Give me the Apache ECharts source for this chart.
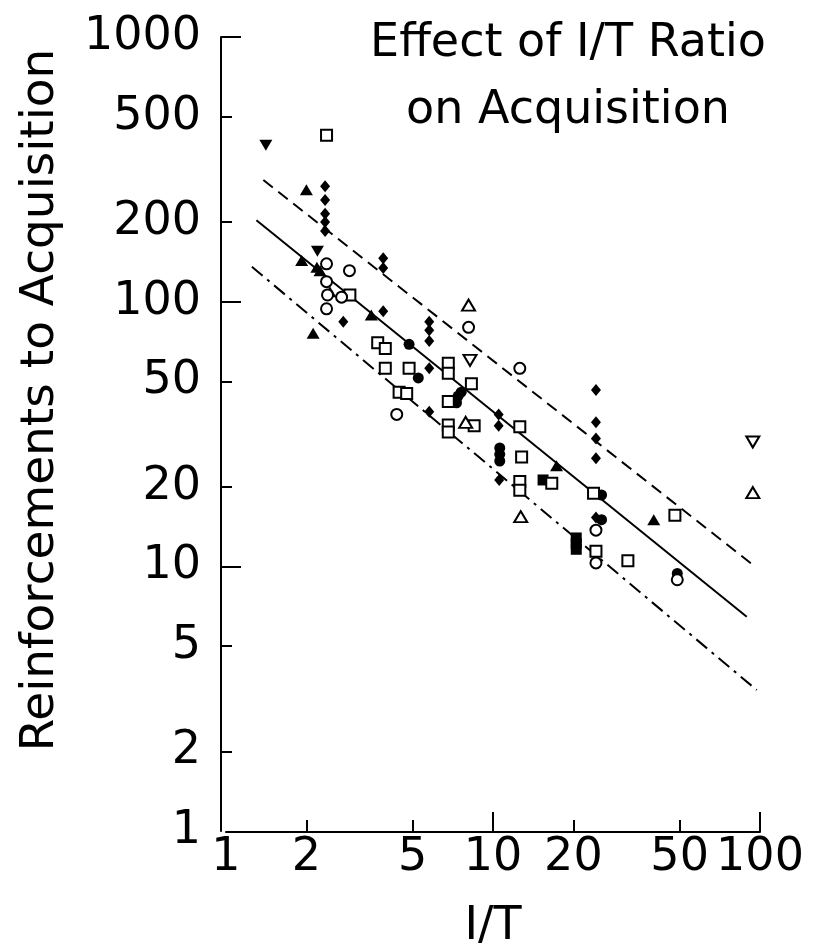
<!DOCTYPE html>
<html><head><meta charset="utf-8">
<script src="https://cdn.jsdelivr.net/npm/echarts@6/dist/echarts.min.js"></script>
<style>html,body{margin:0;padding:0;background:#fff}#c{width:821px;height:950px}</style>
</head><body><div id="c"></div>
<script>
// ---- tick values / labels ----
const xTickLabels = [1, 2, 5, 10, 20, 50, 100];
const yTickLabels = [1, 2, 5, 10, 20, 50, 100, 200, 500, 1000];
const xMajorTicks = [10, 100];
const xMinorTicks = [2, 5, 20, 50];
const yMajorTicks = [10, 100, 1000];
const yMinorTicks = [2, 5, 20, 50, 200, 500];

// ---- scatter groups (I/T, reinforcements) ----
const fDiamondX = [2.35, 2.35, 2.35, 2.35, 2.35, 3.88, 3.88, 3.88, 2.75, 5.77, 5.77, 5.77, 5.77, 5.77, 10.5, 10.5, 10.55, 24.3, 24.3, 24.3, 24.3, 24.3];
const fDiamondY = [273, 242, 215, 200, 185, 146, 134, 92, 84, 84, 78, 71, 56, 38.4, 37.5, 34, 21.2, 46.4, 35, 30.4, 25.6, 15.3];
const fTriX = [2.0, 1.92, 2.19, 2.25, 2.45, 3.5, 2.12, 17.3, 40];
const fTriY = [265, 143, 135, 131, 109, 89, 76, 24, 15];
const fInvTriX = [1.41, 2.2];
const fInvTriY = [390, 155];
const fCircleX = [4.85, 5.25, 7.4, 7.6, 7.3, 10.6, 10.6, 10.6, 25.5, 25.5, 49];
const fCircleY = [69, 51.5, 44, 45.5, 41.5, 28, 26.5, 25, 18.6, 15, 9.4];
const fSquareX = [20.5, 20.5, 20.5, 15.4];
const fSquareY = [12.8, 12.2, 11.6, 21.2];
const oSquareX = [2.38, 2.91, 3.7, 3.95, 3.95, 4.85, 4.45, 4.75, 6.8, 6.8, 6.8, 6.8, 6.8, 8.5, 8.3, 12.6, 12.8, 12.6, 12.6, 16.6, 23.8, 24.3, 32, 48];
const oSquareY = [425, 106, 70, 66.5, 56, 56, 45.5, 45, 58.5, 53.6, 42, 34.2, 32.2, 34, 49, 33.7, 25.9, 20.9, 19.4, 20.6, 18.9, 11.4, 10.5, 15.6];
const oCircleX = [2.38, 2.38, 2.4, 2.71, 2.9, 2.38, 4.36, 8.1, 12.6, 24.3, 24.3, 49];
const oCircleY = [139, 119, 106, 104, 131, 94, 37.5, 80, 56, 13.7, 10.3, 8.9];
const oTriX = [8.1, 7.9, 12.7, 94];
const oTriY = [97, 35, 15.4, 19];
const oInvTriX = [8.2, 94];
const oInvTriY = [60, 29.5];

// ---- fitted lines ----
const fitX = [1.30, 89.2];
const fitY = [203, 6.45];
const upperX = [1.38, 94.4];
const upperY = [288, 10.1];
const lowerX = [1.25, 97.2];
const lowerY = [135.5, 3.41];

const zip = (xs, ys) => xs.map((x, i) => [x, ys[i]]);
const FONT = 'DejaVu Sans';
const BLACK = '#000';

function scatter(name, xs, ys, symbol, size, filled, rotate) {
  return {
    name, type: 'scatter', data: zip(xs, ys), symbol, symbolSize: size,
    symbolRotate: rotate || 0, z: 5,
    itemStyle: filled ? { color: BLACK, opacity: 1 } : { color: '#fff', borderColor: BLACK, borderWidth: 2, opacity: 1 }
  };
}
function line(name, xs, ys, type) {
  return {
    name, type: 'line', data: zip(xs, ys), symbol: 'none', z: 3,
    lineStyle: { color: BLACK, width: 2, type, opacity: 1 }
  };
}

const tickStyle = { color: BLACK, width: 2 };
const labelFmt = v => String(Math.round(v));

const option = {
  animation: false,
  backgroundColor: '#fff',
  textStyle: { fontFamily: FONT },
  title: {
    text: 'Effect of I/T Ratio\non Acquisition',
    left: 568, top: 11, textAlign: 'center', padding: 0,
    textStyle: { fontSize: 46, fontWeight: 'normal', color: BLACK, fontFamily: FONT, lineHeight: 67 }
  },
  grid: { left: 226, right: 61, top: 37, bottom: 119, containLabel: false, outerBoundsMode: 'none' },
  xAxis: [
    {
      type: 'log', logBase: 10, min: 1, max: 100, position: 'bottom', offset: 1,
      axisLine: { show: true, onZero: false, lineStyle: tickStyle },
      axisTick: { show: true, inside: true, length: 20, customValues: xMajorTicks, lineStyle: tickStyle },
      axisLabel: { show: true, customValues: xTickLabels, formatter: labelFmt, fontSize: 46, color: BLACK, margin: 3, fontFamily: FONT },
      splitLine: { show: false }, minorTick: { show: false },
      name: 'I/T', nameLocation: 'middle', nameGap: 72,
      nameTextStyle: { fontSize: 46, color: BLACK, fontFamily: FONT }
    },
    {
      type: 'log', logBase: 10, min: 1, max: 100, position: 'bottom', offset: 1,
      axisLine: { show: false },
      axisTick: { show: true, inside: true, length: 12, customValues: xMinorTicks, lineStyle: tickStyle },
      axisLabel: { show: false }, splitLine: { show: false }
    }
  ],
  yAxis: [
    {
      type: 'log', logBase: 10, min: 1, max: 1000, position: 'left', offset: 5,
      axisLine: { show: true, onZero: false, lineStyle: tickStyle },
      axisTick: { show: true, inside: true, length: 20, customValues: yMajorTicks, lineStyle: tickStyle },
      axisLabel: { show: true, customValues: yTickLabels, formatter: labelFmt, fontSize: 46, color: BLACK, margin: 20, fontFamily: FONT },
      splitLine: { show: false }, minorTick: { show: false },
      name: 'Reinforcements to Acquisition', nameLocation: 'middle', nameGap: 157, nameRotate: 90,
      nameTextStyle: { fontSize: 47, color: BLACK, fontFamily: FONT, padding: [0, 0, 0, 68] }
    },
    {
      type: 'log', logBase: 10, min: 1, max: 1000, position: 'left', offset: 5,
      axisLine: { show: false },
      axisTick: { show: true, inside: true, length: 11, customValues: yMinorTicks, lineStyle: tickStyle },
      axisLabel: { show: false }, splitLine: { show: false }
    }
  ],
  series: [
    line('fit', fitX, fitY, 'solid'),
    line('upper', upperX, upperY, [12, 7]),
    line('lower', lowerX, lowerY, [14, 6, 3, 6]),
    scatter('fDiamond', fDiamondX, fDiamondY, 'diamond', [10, 12], true),
    scatter('fTri', fTriX, fTriY, 'triangle', [13, 11], true),
    scatter('fInvTri', fInvTriX, fInvTriY, 'triangle', [13, 11], true, 180),
    scatter('fCircle', fCircleX, fCircleY, 'circle', 11, true),
    scatter('fSquare', fSquareX, fSquareY, 'rect', 11, true),
    scatter('oSquare', oSquareX, oSquareY, 'rect', 11, false),
    scatter('oCircle', oCircleX, oCircleY, 'circle', 11, false),
    scatter('oTri', oTriX, oTriY, 'triangle', [13, 11], false),
    scatter('oInvTri', oInvTriX, oInvTriY, 'triangle', [13, 11], false, 180)
  ]
};
const chart = echarts.init(document.getElementById('c'), null, { renderer: 'canvas' });
chart.setOption(option);
</script>
</body></html>
